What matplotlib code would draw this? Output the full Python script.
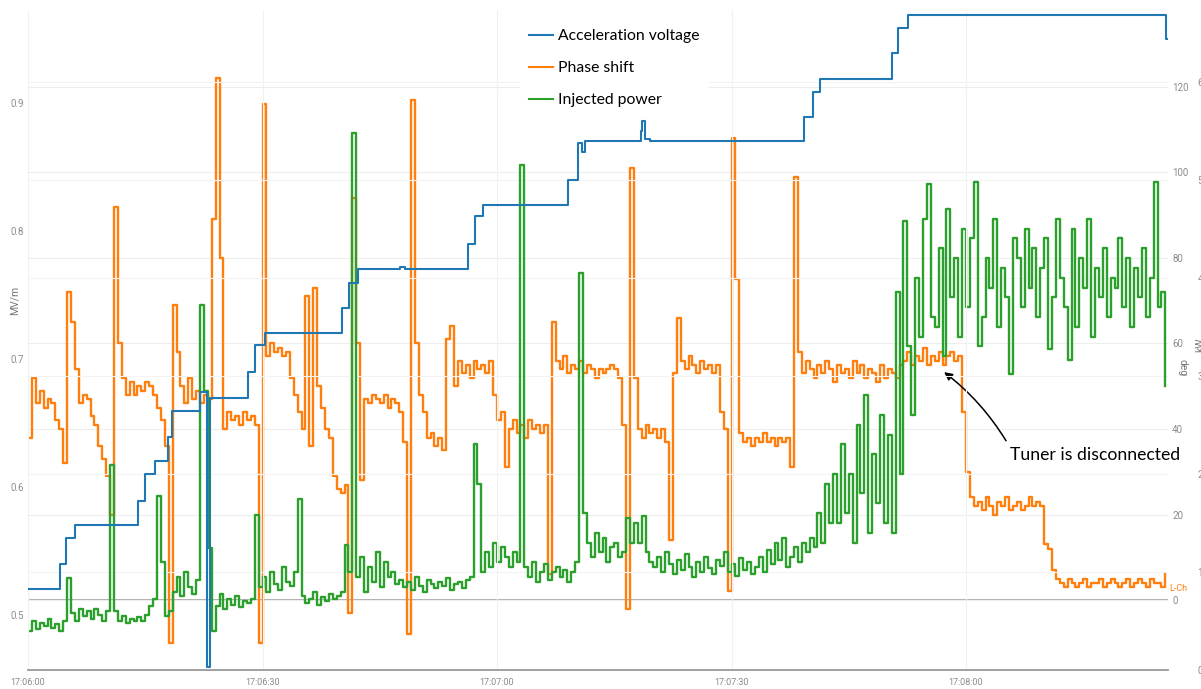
import numpy as np
import matplotlib
matplotlib.use('Agg')
import matplotlib.pyplot as plt

# time axis (seconds after 17:06:00)
time_ticks = [0, 30, 60, 90, 120]
time_labels = ['17:06:00', '17:06:30', '17:07:00', '17:07:30', '17:08:00']
sample_dt = 0.5  # s between phase / power samples

# acceleration voltage, MV/m (step changes: time, value)
volt_t = [0, 4.1, 4.9, 6.0, 14.1, 15.0, 16.2, 17.9, 18.4, 22.0, 22.9, 23.3,
          28.1, 29.0, 30.3, 40.2, 41.1, 42.2, 47.6, 48.2, 56.3, 57.2, 58.2,
          69.1, 70.4, 70.9, 71.3, 78.4, 78.5, 78.9, 79.6, 99.3, 100.4, 101.3,
          110.5, 111.3, 112.6, 145.6, 145.8]
volt_v = [0.520, 0.540, 0.560, 0.570, 0.589, 0.610, 0.620, 0.639, 0.659, 0.674, 0.459, 0.6695,
          0.690, 0.711, 0.720, 0.740, 0.759, 0.770, 0.772, 0.770, 0.790, 0.812, 0.820,
          0.840, 0.869, 0.862, 0.870, 0.878, 0.886, 0.872, 0.870, 0.889, 0.909, 0.919,
          0.939, 0.959, 0.969, 0.950, 0.950]

# phase shift, deg (one value every 0.5 s)
phase = [38, 52, 46, 49, 45, 47, 46, 42, 40, 32, 72, 65, 54, 46, 48, 47, 43, 41, 36, 33,
         29, 20, 92, 60, 52, 48, 51, 48, 50, 49, 51, 50, 48, 45, 42, 36, -10, 69, 58, 50,
         46, 52, 47, 49, 46, 48, 47, 89, 122, 80, 40, 44, 42, 43, 41, 44, 42, 43, 41, -10,
         116, 57, 60, 58, 59, 57, 58, 52, 48, 44, 40, 71, 36, 73, 50, 45, 40, 38, 29, 26,
         25, 27, -3, 94, 60, 28, 47, 46, 48, 47, 46, 48, 45, 47, 46, 44, 37, -8, 117, 60,
         48, 44, 38, 39, 36, 38, 35, 61, 64, 50, 56, 53, 55, 52, 56, 54, 55, 53, 56, 48,
         42, 44, 31, 40, 42, 39, 41, 38, 42, 40, 41, 39, 41, 6, 65, 56, 54, 57, 53, 55,
         54, 56, 53, 55, 54, 52, 54, 53, 54, 55, 54, 52, 41, -2, 101, 52, 40, 38, 41, 39,
         40, 38, 40, 37, 14, 53, 66, 56, 54, 57, 55, 53, 56, 54, 55, 53, 55, 44, 40, 2,
         108, 75, 39, 37, 38, 36, 38, 37, 39, 37, 38, 36, 38, 37, 38, 31, 99, 58, 53, 56,
         54, 52, 55, 53, 56, 54, 51, 55, 53, 54, 52, 56, 53, 55, 52, 54, 53, 51, 55, 52,
         54, 53, 52, 55, 56, 58, 55, 57, 56, 59, 55, 57, 56, 58, 55, 57, 58, 56, 57, 44,
         30, 24, 22, 23, 21, 24, 22, 20, 23, 22, 24, 21, 22, 23, 21, 22, 24, 22, 23, 22,
         13, 12, 7, 5, 4, 3, 5, 4, 3, 4, 5, 3, 4, 4, 5, 3, 4, 5, 4, 3,
         4, 5, 3, 4, 5, 4, 3, 5, 4, 4, 3, 6]

# injected power, kW (one value every 0.5 s)
power = [0.40, 0.50, 0.42, 0.48, 0.45, 0.52, 0.43, 0.47, 0.40, 0.50, 0.94, 0.58, 0.50, 0.62, 0.55, 0.60, 0.52, 0.62, 0.56, 0.50,
         0.60, 2.09, 0.60, 0.50, 0.55, 0.48, 0.52, 0.50, 0.54, 0.50, 0.56, 0.65, 0.72, 1.77, 1.10, 0.55, 0.60, 0.80, 0.95, 0.75,
         1.00, 0.85, 0.78, 0.92, 3.72, 2.84, 1.24, 0.40, 0.65, 0.78, 0.62, 0.72, 0.66, 0.75, 0.64, 0.70, 0.68, 0.72, 1.58, 0.85,
         0.95, 0.80, 1.00, 0.88, 0.82, 1.05, 0.90, 0.86, 1.00, 1.74, 0.75, 0.68, 0.72, 0.80, 0.66, 0.74, 0.70, 0.78, 0.72, 0.75,
         0.80, 1.27, 1.00, 5.48, 0.95, 1.15, 0.80, 1.05, 0.90, 1.20, 0.85, 1.10, 0.95, 1.00, 0.88, 0.92, 0.85, 0.90, 0.82, 0.95,
         0.86, 0.80, 0.92, 0.88, 0.84, 0.90, 0.86, 0.94, 0.82, 0.88, 0.90, 0.84, 0.92, 0.95, 2.30, 1.90, 1.00, 1.20, 1.05, 1.30,
         1.10, 1.25, 1.15, 1.05, 1.20, 1.10, 5.15, 1.05, 0.95, 1.10, 0.90, 1.00, 1.08, 0.92, 1.00, 1.05, 0.95, 1.02, 0.90, 1.00,
         1.10, 4.05, 1.60, 1.30, 1.15, 1.40, 1.20, 1.35, 1.10, 1.25, 1.30, 1.15, 1.20, 1.55, 1.30, 1.50, 1.30, 1.57, 1.20, 1.10,
         1.05, 1.15, 1.00, 1.20, 1.08, 0.98, 1.12, 1.02, 1.18, 1.05, 0.95, 1.10, 1.00, 1.15, 1.04, 0.98, 1.12, 1.06, 1.20, 1.00,
         1.08, 0.96, 1.14, 1.02, 1.10, 0.98, 1.05, 1.15, 1.00, 1.22, 1.08, 1.30, 1.12, 1.35, 1.05, 1.15, 1.25, 1.10, 1.30, 1.20,
         1.35, 1.25, 1.60, 1.30, 1.90, 1.50, 2.00, 1.50, 2.30, 1.60, 2.00, 1.30, 2.50, 1.80, 2.80, 1.40, 2.20, 1.70, 2.60, 1.50,
         2.40, 1.40, 3.85, 2.00, 4.58, 3.30, 2.60, 4.00, 3.40, 4.60, 4.96, 3.60, 3.50, 4.30, 3.20, 4.70, 3.80, 4.20, 3.40, 4.50,
         3.70, 4.40, 4.98, 3.30, 3.60, 4.20, 3.90, 4.60, 3.50, 4.10, 3.80, 3.02, 4.40, 4.20, 3.70, 4.50, 3.90, 4.30, 3.60, 4.10,
         4.40, 3.27, 3.80, 4.60, 4.00, 3.70, 3.16, 4.50, 3.50, 4.20, 3.90, 4.60, 3.40, 4.10, 3.80, 4.30, 3.60, 4.00, 3.90, 4.40,
         3.70, 4.20, 3.50, 4.10, 3.80, 4.30, 3.60, 4.00, 4.98, 3.70, 3.85, 2.90]

t_samples = np.arange(len(phase)) * sample_dt

W, H = 1201, 689
fig = plt.figure(figsize=(W / 100, H / 100), dpi=100)
ax = fig.add_axes([28 / W, 19 / H, 1140 / W, 660 / H])
ax2 = ax.twinx()
ax3 = ax.twinx()

tick_color = '#8a8a8a'
tick_font = 'Roboto'

ax.set_xlim(0, 145.84)
ax.set_ylim(0.457, 0.9727)
ax2.set_ylim(-16.37, 138.0)
ax3.set_ylim(0, 6.73)

# stacking: phase at the bottom, then power, voltage on top
ax2.set_zorder(1)
ax3.set_zorder(2)
ax.set_zorder(3)
ax.patch.set_visible(False)
ax3.patch.set_visible(False)

l_phase, = ax2.plot(t_samples, phase, drawstyle='steps-post', color='#ff7f0e', lw=1.7)
l_power, = ax3.plot(t_samples, power, drawstyle='steps-post', color='#2ca02c', lw=1.7)
l_volt, = ax.plot(volt_t, volt_v, drawstyle='steps-post', color='#1f77b4', lw=1.5)

for a in (ax, ax2, ax3):
    for s in a.spines.values():
        s.set_visible(False)
ax.spines['bottom'].set_visible(True)
ax.spines['bottom'].set_color('#9a9a9a')
ax.spines['bottom'].set_linewidth(1.3)

ax.set_xticks(time_ticks)
ax.set_xticklabels(time_labels)
ax.set_yticks([0.5, 0.6, 0.7, 0.8, 0.9])
ax.set_yticklabels(['0.5', '0.6', '0.7', '0.8', '0.9'])
ax.tick_params(axis='x', length=0, pad=6, labelsize=6.5, labelcolor=tick_color)
ax.tick_params(axis='y', length=0, pad=3, labelsize=7, labelcolor=tick_color)
for lab in ax.get_xticklabels() + ax.get_yticklabels():
    lab.set_family(tick_font)

ax2.set_yticks([0, 20, 40, 60, 80, 100, 120])
ax2.tick_params(axis='y', length=0, pad=3, labelsize=7, labelcolor=tick_color)
ax3.set_yticks([0, 1, 2, 3, 4, 5, 6])
ax3.spines['right'].set_position(('axes', 1.022))
ax3.tick_params(axis='y', length=0, pad=3, labelsize=7, labelcolor=tick_color)
for lab in ax2.get_yticklabels() + ax3.get_yticklabels():
    lab.set_family(tick_font)

ax.grid(axis='x', color='#f1f1f1', lw=0.8)
ax2.grid(axis='y', color='#ededed', lw=0.8)
ax3.grid(axis='y', color='#f3f3f3', lw=0.8)
ax2.axhline(0, color='#a8a8a8', lw=1.3, zorder=0.5)

fig.text(15 / W, 1 - 300 / H, 'MV/m', rotation=90, ha='center', va='center',
         fontsize=7.5, color='#777777', family=tick_font)
fig.text(1183 / W, 1 - 368 / H, 'deg', rotation=270, ha='center', va='center',
         fontsize=7.5, color='#777777', family=tick_font)
fig.text(1200 / W, 1 - 345 / H, 'kW', rotation=90, ha='center', va='center',
         fontsize=7.5, color='#777777', family=tick_font)

ax2.text(145.95, 2.8, 'L-Ch', color='#ff7f0e', fontsize=6.5, ha='left', va='center',
         clip_on=False, family=tick_font)

ax2.annotate('Tuner is disconnected', xy=(117.2, 53.3), xytext=(125.6, 33.9),
             fontsize=12.7, family='Lato', ha='left', va='center',
             arrowprops=dict(arrowstyle='-|>', color='black', lw=1.1,
                             connectionstyle='arc3,rad=0.1', relpos=(0, 1),
                             shrinkA=3, shrinkB=0, mutation_scale=12))

leg = ax.legend([l_volt, l_phase, l_power],
                ['Acceleration voltage', 'Phase shift', 'Injected power'],
                loc='upper left', bbox_to_anchor=(512 / W, 1 - 12 / H),
                bbox_transform=fig.transFigure, frameon=True, facecolor='white',
                edgecolor='none', framealpha=1, fancybox=False,
                prop={'family': 'Lato', 'size': 11.3}, handlelength=1.5,
                handletextpad=0.35, labelspacing=1.15, borderpad=0.6)
for h in leg.get_lines():
    h.set_linewidth(1.5)

fig.savefig('out.png', dpi=100, facecolor='white')
